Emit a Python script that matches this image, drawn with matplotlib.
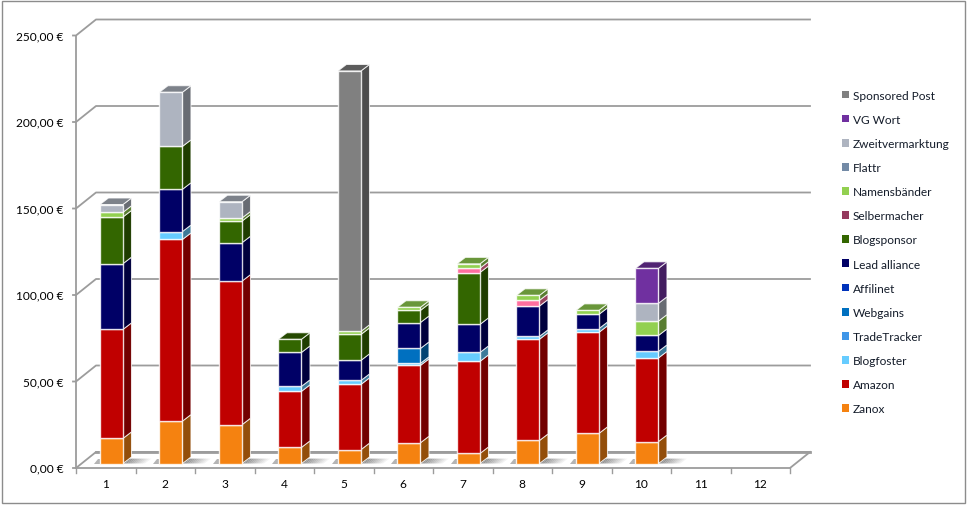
import matplotlib
matplotlib.use('Agg')
import matplotlib.pyplot as plt
from matplotlib.colors import to_rgb
from matplotlib.patches import Patch, Rectangle
import numpy as np

categories = list(range(1, 13))
y_ticks = [0, 50, 100, 150, 200, 250]

zanox = [14.5, 24.5, 22.4, 9.3, 8, 12, 5.8, 13.3, 17.4, 12.7, 0, 0]
amazon = [63, 105, 83, 32.4, 37.7, 44.7, 53.2, 58.5, 58.4, 48.3, 0, 0]
blogfoster = [0, 4.6, 0, 2.9, 2.3, 1.2, 5.2, 1.7, 2.2, 3.8, 0, 0]
tradetracker = [0] * 12
webgains = [0, 0, 0, 0, 0, 8.6, 0, 0, 0, 0, 0, 0]
affilinet = [0] * 12
lead_alliance = [38, 24.4, 22.2, 19.6, 11.6, 15, 16.2, 17.5, 8.2, 9.2, 0, 0]
blogsponsor = [27, 24.8, 12.5, 7.6, 15, 7, 30, 0, 0, 0, 0, 0]
selbermacher = [0, 0, 0, 0, 0, 0, 2.5, 3.3, 0, 0, 0, 0]
namensbaender = [2.7, 0, 1.8, 0, 1.8, 1.8, 2.5, 2.9, 2.3, 8.3, 0, 0]
flattr = [0] * 12
zweitvermarktung = [4.5, 31.3, 9.4, 0, 0, 0, 0, 0, 0, 10.3, 0, 0]
vg_wort = [0, 0, 0, 0, 0, 0, 0, 0, 0, 20.2, 0, 0]
sponsored_post = [0, 0, 0, 0, 150.5, 0, 0, 0, 0, 0, 0, 0]

series = [
    ('Zanox', zanox, '#F58210'),
    ('Amazon', amazon, '#C00000'),
    ('Blogfoster', blogfoster, '#66CCFF'),
    ('TradeTracker', tradetracker, '#3F96E8'),
    ('Webgains', webgains, '#0070C0'),
    ('Affilinet', affilinet, '#0033BB'),
    ('Lead alliance', lead_alliance, '#000066'),
    ('Blogsponsor', blogsponsor, '#336600'),
    ('Selbermacher', selbermacher, '#FF6F9F'),
    ('Namensbänder', namensbaender, '#92D050'),
    ('Flattr', flattr, '#738AA6'),
    ('Zweitvermarktung', zweitvermarktung, '#AEB4C0'),
    ('VG Wort', vg_wort, '#7030A0'),
    ('Sponsored Post', sponsored_post, '#808080'),
]
legend_swatch = {'Selbermacher': '#953A5E'}

W, H = 967, 506
# scale of the chart in pixels
px_cat = 59.5
px_eur = 1.73
x0_px, y0_px = 76, 469

fig = plt.figure(figsize=(W / 100, H / 100), dpi=100)
ax = fig.add_axes([0, 0, 1, 1])
ax.set_xlim(0.5 - x0_px / px_cat, 0.5 + (W - x0_px) / px_cat)
ax.set_ylim((y0_px - H) / px_eur, y0_px / px_eur)
ax.axis('off')
plt.rcParams['font.family'] = ['Lato', 'DejaVu Sans']


def dx(px):
    return px / px_cat


def dy(px):
    return px / px_eur


def shade(color, f):
    return tuple(c * f for c in to_rgb(color))


grid_c = '#9C9C9C'
wall_x, wall_y = dx(20), dy(16)
left, right = 0.5, 12.5

# Wände, Raster
for v in y_ticks:
    ax.plot([left - dx(3), left, left + wall_x, right + wall_x],
            [v, v, v + wall_y, v + wall_y], color=grid_c, lw=1.3, zorder=1)
ax.plot([left, left], [0, 250], color=grid_c, lw=1.3, zorder=1)
ax.plot([left, right, right + wall_x], [0, 0, wall_y], color=grid_c, lw=1.3, zorder=1)
ax.plot([left + wall_x, right + wall_x], [wall_y, wall_y], color=grid_c, lw=2, zorder=1)
for c in np.arange(0.5, 13):
    ax.plot([c, c], [0, -dy(5)], color=grid_c, lw=1, zorder=1)

bar_w = dx(23)
off_x, off_y = dx(5.7), dy(4.5)
depth_x, depth_y = dx(8.5), dy(6.5)

# Schatten auf dem Boden
for c in categories[:10]:
    xr = c + off_x + bar_w / 2
    xl = c + off_x - bar_w / 2
    for i in range(10):
        a, b = xr + dx(2.2 * i), xr + dx(2.2 * (i + 1))
        ax.fill([a, b, b + depth_x * 0.75, a + depth_x * 0.75],
                [off_y, off_y, off_y + depth_y * 0.75, off_y + depth_y * 0.75],
                color='#7E7E7E', alpha=0.9 * (1 - i / 10), lw=0, zorder=2)
    ax.fill([xl - dx(6), xl, xl, xl - dx(2)],
            [off_y, off_y, off_y + depth_y * 0.75, off_y + depth_y * 0.75],
            color='#B4B4B4', lw=0, zorder=2)

# Säulen
edge = (1, 1, 1, 0.8)
z = 3
for i, c in enumerate(categories):
    bottom = off_y
    xl = c + off_x - bar_w / 2
    xr = xl + bar_w
    visible = [(v[i], col) for _, v, col in series if v[i] > 0]
    for n, (val, col) in enumerate(visible):
        top = bottom + val
        ax.fill([xr, xr + depth_x, xr + depth_x, xr],
                [bottom, bottom + depth_y, top + depth_y, top],
                facecolor=shade(col, 0.6), edgecolor=edge, lw=0.7, zorder=z)
        ax.fill([xl, xr, xr, xl], [bottom, bottom, top, top],
                facecolor=col, edgecolor=edge, lw=1.0, zorder=z + 1)
        if n == len(visible) - 1:
            ax.fill([xl, xr, xr + depth_x, xl + depth_x],
                    [top, top, top + depth_y, top + depth_y],
                    facecolor=shade(col, 0.72), edgecolor=edge, lw=0.7, zorder=z)
        bottom = top
        z += 2

for v in y_ticks:
    ax.text(left - dx(12.5), v, f'{v},00 €', ha='right', va='center',
            fontsize=8.6, color='black')
for c in categories:
    ax.text(c, -dy(15.5), str(c), ha='center', va='center', fontsize=8.6, color='black')

handles = [Patch(facecolor=legend_swatch.get(n, col), edgecolor='none', label=n)
           for n, _, col in reversed(series)]
ax.legend(handles=handles, loc='center left', bbox_to_anchor=(842 / W, 1 - 253 / H),
          bbox_transform=fig.transFigure, frameon=False, fontsize=8.6,
          handlelength=0.62, handleheight=0.62, handletextpad=0.27,
          labelspacing=1.1, borderpad=0, borderaxespad=0, labelcolor='#141C2A')

# Rahmen
fig.add_artist(Rectangle((1.5 / W, 1 - 504 / H), 963.5 / W, 502.5 / H, transform=fig.transFigure,
                         fill=False, edgecolor='#8C8C8C', lw=1))

fig.savefig('out.png', dpi=100)
